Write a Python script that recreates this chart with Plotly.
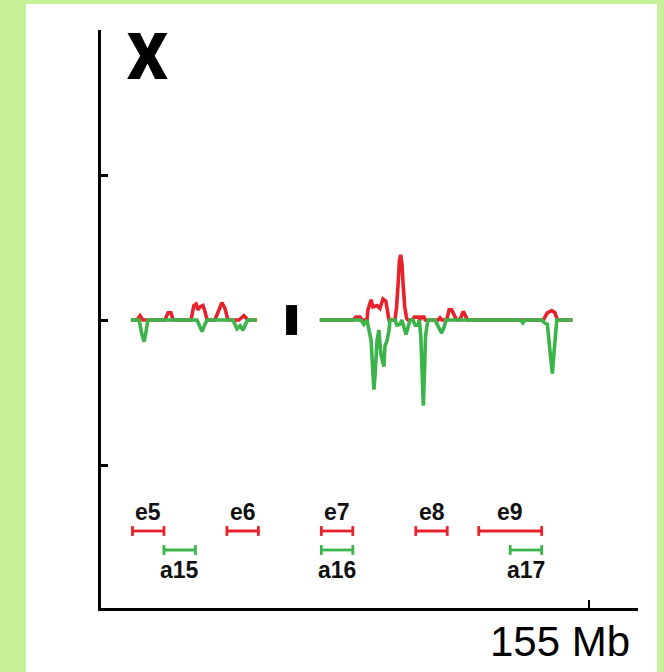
import plotly.graph_objects as go

# Chromosome X profile: positions in Mb, two arms separated by a gap (None)
red_x = [9.5, 11.4, 12.4, 13.3, 20.3, 21.3, 22.2, 22.9, 28.6, 29.5, 30.2, 30.8, 31.4,
         32.4, 33.0, 33.7, 36.2, 37.5, 38.4, 39.4, 40.3, 43.8, 45.4, 46.7, 49.5,
         None,
         69.5, 80.0, 81.0, 82.3, 82.9, 84.5, 84.8, 85.8, 86.4, 87.7, 88.6, 89.6, 90.5,
         91.2, 91.5, 93.4, 93.9, 94.4, 94.8, 95.2, 95.6, 96.0, 96.5, 97.1, 97.5, 99.0,
         99.5, 100.9, 101.3, 101.8, 102.6, 103.0, 107.1, 107.7, 108.3, 109.8, 110.6,
         111.4, 112.5, 113.0, 114.0, 115.1, 116.0, 116.4, 140.5, 141.8, 143.2, 144.2,
         145.0, 149.8]
red_y = [0, 0, 0.03, 0, 0, 0.05, 0.05, 0, 0, 0.10, 0.11, 0.07, 0.09,
         0.10, 0.06, 0, 0, 0.08, 0.12, 0.08, 0, 0, 0.03, 0, 0,
         None,
         0, 0, 0.02, 0.02, 0, 0, 0.07, 0.14, 0.09, 0.10, 0.08, 0.145, 0.13,
         0.02, 0, 0, 0.09, 0.25, 0.41, 0.45, 0.39, 0.24, 0.09, 0.01, 0, 0,
         0.02, 0.02, 0, 0.02, 0.02, 0, 0, 0.015, 0, 0, 0.07,
         0.07, 0.02, 0, 0, 0.06, 0.02, 0, 0, 0.05, 0.065, 0.05,
         0, 0]

green_x = [9.5, 12.1, 13.0, 13.7, 14.3, 14.9, 30.5, 31.4, 32.1, 33.0, 33.7, 41.9, 43.2,
           44.2, 45.1, 46.1, 46.7, 49.5,
           None,
           69.5, 82.6, 83.5, 84.5, 85.8, 86.4, 86.7, 87.1, 87.7, 88.3, 88.9, 89.6, 89.9,
           90.2, 90.9, 91.5, 91.8, 93.4, 94.0, 94.9, 95.6, 96.9, 98.2, 99.1, 99.8, 100.7,
           101.1, 101.6, 102.0, 102.4, 102.8, 103.1, 103.5, 103.9, 106.1, 107.2, 108.2,
           109.0, 109.6, 133.4, 134.0, 134.7, 140.1, 140.9, 141.8, 142.4, 142.9, 143.4,
           143.9, 144.3, 144.8, 149.8]
green_y = [0, 0, -0.10, -0.15, -0.08, 0, 0, -0.05, -0.08, -0.03, 0, 0, -0.06,
           -0.04, -0.07, -0.02, 0, 0,
           None,
           0, 0, -0.03, 0, -0.14, -0.34, -0.48, -0.37, -0.14, -0.07, -0.23, -0.30, -0.32,
           -0.18, -0.14, -0.07, 0, 0, -0.035, -0.03, 0, -0.10, 0, 0, -0.035, -0.035,
           0, -0.11, -0.41, -0.59, -0.34, -0.11, -0.05, 0, 0, -0.05, -0.09,
           -0.05, 0, 0, -0.02, 0, 0, -0.02, -0.03, -0.16, -0.28, -0.37,
           -0.23, -0.10, 0, 0]

# Centromere position (Mb)
centromere = (58.8, 62.3)

# Region intervals (Mb)
red_regions = [("e5", 10, 20), ("e6", 40, 50), ("e7", 70, 80), ("e8", 100, 110), ("e9", 120, 140)]
green_regions = [("a15", 20, 30), ("a16", 70, 80), ("a17", 130, 140)]

x_tick_vals = [155]
x_tick_text = "155 Mb"
title_text = "X"

RED = "#e8222b"
GREEN = "#3cb44a"
BG_GREEN = "rgb(197,242,152)"
FONT = "Liberation Sans"

RED_LEVEL = -1.455
GREEN_LEVEL = -1.586

fig = go.Figure()

fig.add_trace(go.Scatter(x=red_x, y=red_y, mode="lines", connectgaps=False,
                         line=dict(color=RED, width=3.6), hoverinfo="skip"))
fig.add_trace(go.Scatter(x=green_x, y=green_y, mode="lines", connectgaps=False,
                         line=dict(color=GREEN, width=3.6), hoverinfo="skip"))

annotations = []
for regions, color, level, shift in ((red_regions, RED, RED_LEVEL, 19),
                                     (green_regions, GREEN, GREEN_LEVEL, -20)):
    for label, start, end in regions:
        fig.add_trace(go.Scatter(
            x=[start, end], y=[level, level], mode="lines+markers",
            line=dict(color=color, width=2.8),
            marker=dict(symbol="line-ns-open", size=7, color=color,
                        line=dict(color=color, width=2.8)),
            hoverinfo="skip"))
        annotations.append(dict(
            x=(start + end) / 2, y=level, xref="x", yref="y", text=label,
            showarrow=False, yshift=shift, xanchor="center", yanchor="middle",
            font=dict(family=FONT, size=23, color="#111111", weight="bold")))

annotations.append(dict(
    x=0.0866, y=0.952, xref="paper", yref="paper", text=title_text,
    showarrow=False, xanchor="center", yanchor="middle",
    font=dict(family="Roboto", size=64, color="black", weight=900)))
annotations.append(dict(
    x=x_tick_vals[0], y=0, xref="x", yref="paper", text=x_tick_text,
    showarrow=False, xanchor="right", yanchor="middle", xshift=43, yshift=-33,
    font=dict(family=FONT, size=42, color="black")))

shapes = [
    # white panel behind the chart
    dict(type="rect", xref="paper", yref="paper", x0=-0.1397, x1=1.0354,
         y0=-0.2, y1=1.045, fillcolor="white", line=dict(width=0), layer="below"),
    # centromere block
    dict(type="rect", xref="x", yref="y", x0=centromere[0], x1=centromere[1],
         y0=-0.103, y1=0.103, fillcolor="black", line=dict(width=0)),
]

fig.update_layout(
    width=664, height=672,
    margin=dict(l=101, r=26, t=30, b=64),
    paper_bgcolor=BG_GREEN, plot_bgcolor="white",
    showlegend=False,
    annotations=annotations, shapes=shapes,
    xaxis=dict(range=[0, 170.6], showgrid=False, zeroline=False,
               showline=True, linecolor="black", linewidth=3,
               ticks="inside", tickvals=x_tick_vals, ticklen=8, tickwidth=2,
               tickcolor="black", showticklabels=False, fixedrange=True),
    yaxis=dict(range=[-1.986, 2], showgrid=False, zeroline=False,
               showline=True, linecolor="black", linewidth=3,
               ticks="inside", tickvals=[-1, 0, 1, 2], ticklen=7, tickwidth=2.5,
               tickcolor="black", showticklabels=False, fixedrange=True),
)

fig.write_html("out.html")
